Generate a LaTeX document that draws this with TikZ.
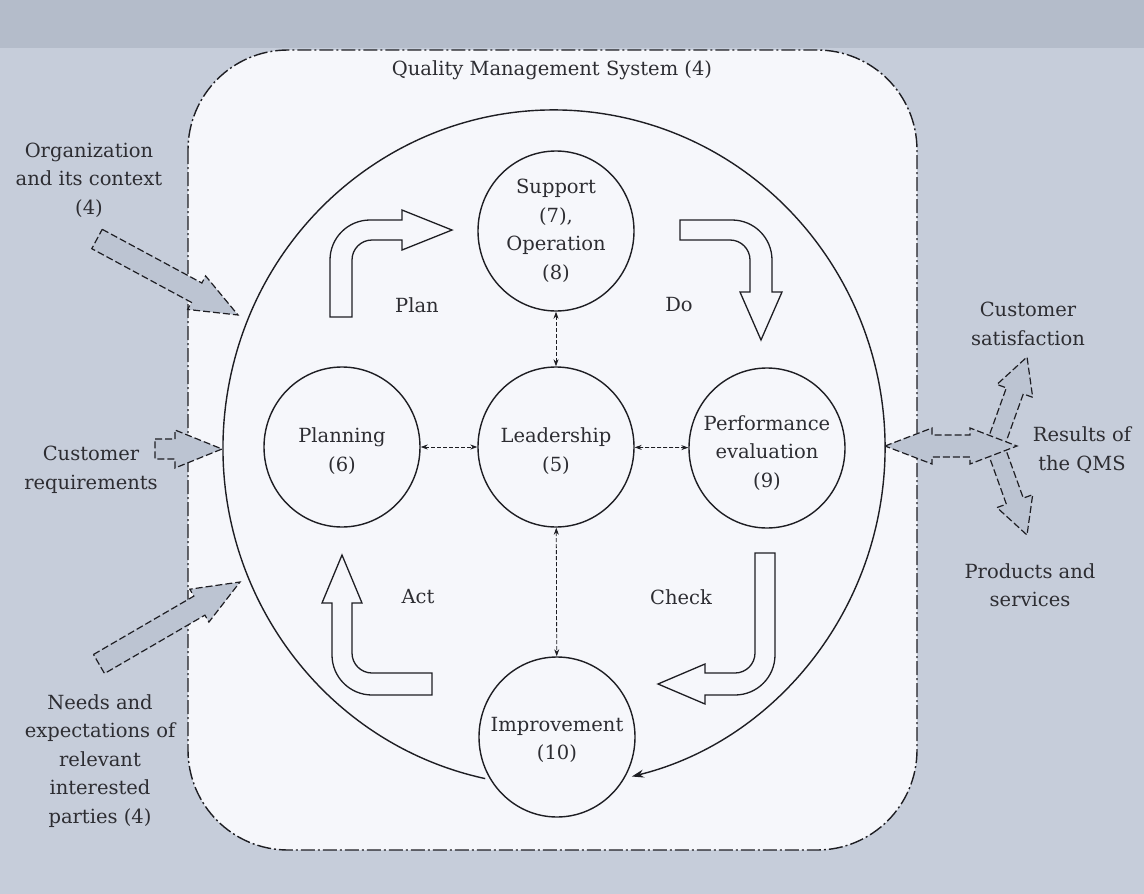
\documentclass[tikz,border=0pt]{standalone}
\usepackage{fontspec}
\setmainfont{DejaVu Serif}
\usetikzlibrary{shapes.geometric,arrows.meta,calc}
\definecolor{bgout}{RGB}{198,205,218}
\definecolor{bgtop}{RGB}{180,188,202}
\definecolor{bgin}{RGB}{246,247,251}
\definecolor{arrfill}{RGB}{188,196,210}
\definecolor{ink}{RGB}{30,30,35}
\definecolor{txt}{RGB}{45,45,50}
\newcommand\blkarrow[6][]{%
  \coordinate (#2-hb) at ($(#3)!#6!(#2)$);
  \draw[#1] ($(#2)!#4!90:(#3)$) -- ($(#2-hb)!#4!90:(#3)$) -- ($(#2-hb)!#5!90:(#3)$) -- (#3)
    -- ($(#2-hb)!#5!-90:(#3)$) -- ($(#2-hb)!#4!-90:(#3)$) -- ($(#2)!#4!-90:(#3)$) -- cycle;
}
\begin{document}
\begin{tikzpicture}[x=1pt,y=-1pt,
  ell/.style={draw=ink, line width=1.4pt, ellipse, minimum width=156pt, minimum height=160pt, inner sep=0pt, fill=bgin},
  lbl/.style={text=txt, font=\fontsize{19.5}{28.5}\selectfont, align=center, inner sep=0pt},
  dbl/.style={draw=ink, line width=0.8pt, dash pattern=on 4pt off 2pt, {Stealth[length=7pt,width=5pt]}-{Stealth[length=7pt,width=5pt]}},
  bentarr/.style={draw=ink, line width=1.3pt, fill=bgin, line join=miter},
  outarr/.style={draw=ink, line width=1.2pt, dash pattern=on 7pt off 3pt, fill=arrfill, line join=miter},
  qms/.style={draw=ink, line width=1.4pt, dash pattern=on 14pt off 3pt on 2pt off 3pt, fill=bgin, rounded corners=100pt}
]
\useasboundingbox (0,0) rectangle (1144,894);
% background
\fill[bgout] (0,0) rectangle (1144,894);
\fill[bgtop] (0,0) rectangle (1144,48);
% QMS boundary
\draw[qms] (188,50) rectangle (917,850);
\node[lbl] (title) at (552,70) {Quality Management System (4)};
% big cycle
\draw[ink, line width=1.4pt, -{Stealth[length=12pt,width=8pt]}] (485.2,778.6) arc[start angle=102, end angle=436.4, x radius=331, y radius=338];
% bent arrows
% Plan
\draw[bentarr] (330,317) -- (330,260) arc[start angle=180,end angle=270,radius=40] -- (402,220) -- (402,210) -- (452,230)
  -- (402,250) -- (402,240) -- (372,240) arc[start angle=270,end angle=180,radius=20] -- (352,317) -- cycle;
% Do
\draw[bentarr] (680,220) -- (732,220) arc[start angle=270,end angle=360,radius=40] -- (772,292) -- (782,292) -- (761,340)
  -- (740,292) -- (750,292) -- (750,260) arc[start angle=0,end angle=-90,radius=20] -- (680,240) -- cycle;
% Act
\draw[bentarr] (342,555) -- (362,603) -- (352,603) -- (352,653) arc[start angle=180,end angle=90,radius=20] -- (432,673)
  -- (432,695) -- (372,695) arc[start angle=90,end angle=180,radius=40] -- (332,603) -- (322,603) -- cycle;
% Check
\draw[bentarr] (755,553) -- (775,553) -- (775,655) arc[start angle=0,end angle=90,radius=40] -- (705,695) -- (705,704)
  -- (658,684) -- (705,664) -- (705,673) -- (735,673) arc[start angle=90,end angle=0,radius=20] -- cycle;
% phase labels
\node[lbl] (plantxt) at (417,305) {Plan};
\node[lbl] (dotxt) at (679,305) {Do};
\node[lbl] (acttxt) at (418,597) {Act};
\node[lbl] (checktxt) at (681,597) {Check};
% circles
\node[ell] (sup) at (556,231) {};
\node[ell] (lead) at (556,447) {};
\node[ell] (plan) at (342,447) {};
\node[ell] (perf) at (767,448) {};
\node[ell] (impr) at (557,737) {};
\node[lbl] at (sup) {Support\\(7),\\Operation\\(8)};
\node[lbl] at ([yshift=-4pt]lead.center) {Leadership\\(5)};
\node[lbl] at ([yshift=-4pt]plan.center) {Planning\\(6)};
\node[lbl] at ([yshift=-5pt]perf.center) {Performance\\evaluation\\(9)};
\node[lbl] at ([yshift=-3pt]impr.center) {Improvement\\(10)};
% dashed links
\draw[dbl] (sup) -- (lead);
\draw[dbl] (lead) -- (impr);
\draw[dbl] (plan) -- (lead);
\draw[dbl] (lead) -- (perf);
% inputs (left)
\coordinate (orgT) at (97,239);   \coordinate (orgP) at (238,315);
\coordinate (cusT) at (155,449);  \coordinate (cusP) at (222,449);
\coordinate (neeT) at (99,664);   \coordinate (neeP) at (240,582);
\blkarrow[outarr]{orgT}{orgP}{11pt}{19pt}{47pt}
\blkarrow[outarr]{cusT}{cusP}{10pt}{19pt}{47pt}
\blkarrow[outarr]{neeT}{neeP}{11pt}{19pt}{47pt}
\node[lbl] (orgtxt) at (89,180) {Organization\\and its context\\(4)};
\node[lbl] (custxt) at (91,470) {Customer\\requirements};
\node[lbl] (neetxt) at (100,761) {Needs and\\expectations of\\relevant\\interested\\parties (4)};
% outputs (right)
\coordinate (satT) at (995,446);  \coordinate (satP) at (1027,357);
\coordinate (proT) at (995,446);  \coordinate (proP) at (1027,535);
\blkarrow[outarr]{satT}{satP}{9pt}{19pt}{36pt}
\blkarrow[outarr]{proT}{proP}{9pt}{19pt}{36pt}
\coordinate (resL) at (885,446); \coordinate (resR) at (1017,446);
\draw[outarr] (resL) -- (932,428) -- (932,435) -- (970,435) -- (970,428) -- (resR)
  -- (970,464) -- (970,457) -- (932,457) -- (932,464) -- cycle;
\node[lbl] (sattxt) at (1028,324) {Customer\\satisfaction};
\node[lbl] (restxt) at (1082,450) {Results of\\the QMS};
\node[lbl] (protxt) at (1030,585) {Products and\\services};
\end{tikzpicture}
\end{document}
